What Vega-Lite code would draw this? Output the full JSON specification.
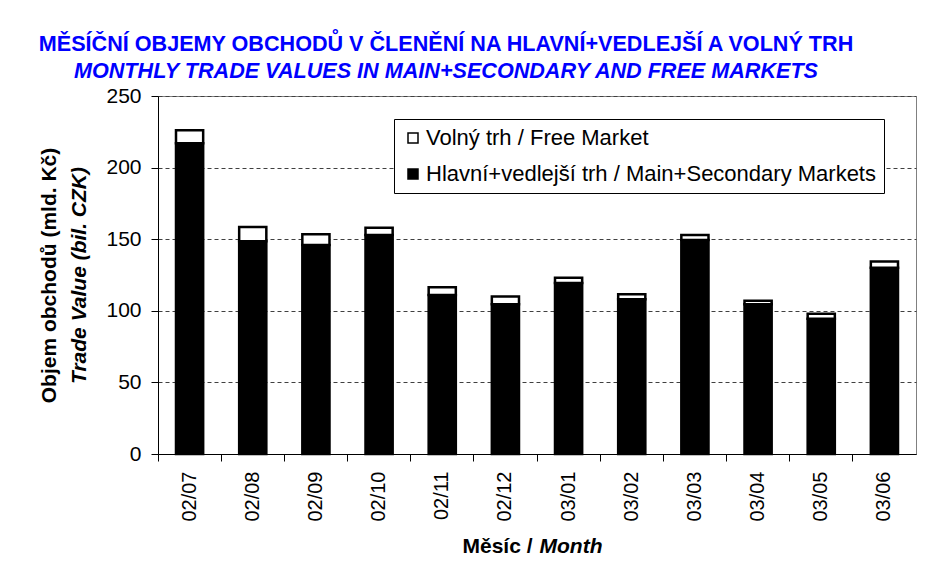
{
  "$schema": "https://vega.github.io/schema/vega-lite/v6.json",
  "autosize": "none",
  "width": 758,
  "height": 358,
  "padding": {"left": 158, "top": 96, "right": 14, "bottom": 115},
  "background": "white",
  "title": {
    "text": "MĚSÍČNÍ OBJEMY OBCHODŮ V ČLENĚNÍ NA HLAVNÍ+VEDLEJŠÍ A VOLNÝ TRH",
    "subtitle": "MONTHLY TRADE VALUES IN MAIN+SECONDARY AND FREE MARKETS",
    "anchor": "middle",
    "frame": "group",
    "dx": -91,
    "offset": 2,
    "font": "Liberation Sans",
    "fontSize": 21.6,
    "fontWeight": "bold",
    "color": "#0000ff",
    "subtitleFont": "Liberation Sans",
    "subtitleFontSize": 21.6,
    "subtitleFontWeight": "bold",
    "subtitleFontStyle": "italic",
    "subtitleColor": "#0000ff",
    "subtitlePadding": 6
  },
  "data": {
    "values": [
      {"month": "02/07", "series": "Hlavní+vedlejší trh / Main+Secondary Markets", "value": 217},
      {"month": "02/07", "series": "Volný trh / Free Market", "value": 9},
      {"month": "02/08", "series": "Hlavní+vedlejší trh / Main+Secondary Markets", "value": 148.5},
      {"month": "02/08", "series": "Volný trh / Free Market", "value": 10},
      {"month": "02/09", "series": "Hlavní+vedlejší trh / Main+Secondary Markets", "value": 146},
      {"month": "02/09", "series": "Volný trh / Free Market", "value": 7.5},
      {"month": "02/10", "series": "Hlavní+vedlejší trh / Main+Secondary Markets", "value": 153},
      {"month": "02/10", "series": "Volný trh / Free Market", "value": 5},
      {"month": "02/11", "series": "Hlavní+vedlejší trh / Main+Secondary Markets", "value": 111},
      {"month": "02/11", "series": "Volný trh / Free Market", "value": 5.5},
      {"month": "02/12", "series": "Hlavní+vedlejší trh / Main+Secondary Markets", "value": 104.5},
      {"month": "02/12", "series": "Volný trh / Free Market", "value": 5.5},
      {"month": "03/01", "series": "Hlavní+vedlejší trh / Main+Secondary Markets", "value": 119.5},
      {"month": "03/01", "series": "Volný trh / Free Market", "value": 3.5},
      {"month": "03/02", "series": "Hlavní+vedlejší trh / Main+Secondary Markets", "value": 108},
      {"month": "03/02", "series": "Volný trh / Free Market", "value": 3.5},
      {"month": "03/03", "series": "Hlavní+vedlejší trh / Main+Secondary Markets", "value": 149.5},
      {"month": "03/03", "series": "Volný trh / Free Market", "value": 3.5},
      {"month": "03/04", "series": "Hlavní+vedlejší trh / Main+Secondary Markets", "value": 104.5},
      {"month": "03/04", "series": "Volný trh / Free Market", "value": 2.5},
      {"month": "03/05", "series": "Hlavní+vedlejší trh / Main+Secondary Markets", "value": 94.5},
      {"month": "03/05", "series": "Volný trh / Free Market", "value": 3.5},
      {"month": "03/06", "series": "Hlavní+vedlejší trh / Main+Secondary Markets", "value": 130},
      {"month": "03/06", "series": "Volný trh / Free Market", "value": 4.5}
    ]
  },
  "encoding": {
    "y": {
      "field": "value",
      "type": "quantitative",
      "stack": "zero",
      "scale": {"domain": [0, 250]}
    },
    "order": {"field": "series", "sort": "ascending"}
  },
  "layer": [
    {
      "mark": {"type": "bar", "width": {"band": 0.43}, "stroke": "black", "strokeWidth": 2.5},
      "encoding": {
        "x": {
          "field": "month",
          "type": "ordinal",
          "scale": {"paddingInner": 0, "paddingOuter": 0},
          "axis": {
            "orient": "bottom",
            "title": "Měsíc /",
            "titleFont": "Liberation Sans",
            "titleFontSize": 21,
            "titleFontWeight": "bold",
            "titleColor": "black",
            "titleAlign": "left",
            "titleBaseline": "top",
            "titleX": 304,
            "titleY": 81,
            "labelAngle": 270,
            "labelFont": "Liberation Sans",
            "labelFontSize": 20,
            "labelColor": "black",
            "labelPadding": 10,
            "tickSize": 7,
            "tickColor": "black",
            "domainColor": "black",
            "bandPosition": 0
          }
        },
        "y": {
          "field": "value",
          "type": "quantitative",
          "stack": "zero",
          "scale": {"domain": [0, 250]},
          "axis": {
            "title": "Objem obchodů (mld. Kč)",
            "titleFont": "Liberation Sans",
            "titleFontSize": 21,
            "titleFontWeight": "bold",
            "titleColor": "black",
            "titlePadding": 46,
            "values": [0, 50, 100, 150, 200, 250],
            "labelFont": "Liberation Sans",
            "labelFontSize": 21,
            "labelColor": "black",
            "labelPadding": 10,
            "tickSize": 7,
            "tickColor": "black",
            "domainColor": "black",
            "grid": true,
            "gridColor": "#404040",
            "gridDash": [4, 3],
            "gridWidth": 1
          }
        },
        "color": {
          "field": "series",
          "type": "nominal",
          "scale": {
            "domain": ["Volný trh / Free Market", "Hlavní+vedlejší trh / Main+Secondary Markets"],
            "range": ["white", "black"]
          },
          "legend": {
            "title": null,
            "orient": "none",
            "legendX": 236,
            "legendY": 23,
            "symbolType": "square",
            "symbolSize": 100,
            "symbolStrokeColor": "black",
            "symbolStrokeWidth": 1.5,
            "labelFont": "Liberation Sans",
            "labelFontSize": 22,
            "labelColor": "black",
            "labelOffset": 2,
            "labelLimit": 600,
            "rowPadding": 14,
            "padding": 8,
            "strokeColor": "black",
            "fillColor": "white"
          }
        }
      }
    },
    {
      "mark": {"type": "bar", "width": {"band": 0.43}, "opacity": 0},
      "encoding": {
        "x": {
          "field": "month",
          "type": "ordinal",
          "axis": {
            "orient": "bottom",
            "title": "Month",
            "titleFont": "Liberation Sans",
            "titleFontSize": 21,
            "titleFontWeight": "bold",
            "titleFontStyle": "italic",
            "titleColor": "black",
            "titleAlign": "left",
            "titleBaseline": "top",
            "titleX": 381,
            "titleY": 81,
            "labels": false,
            "ticks": false,
            "domain": false,
            "grid": false
          }
        },
        "y": {
          "field": "value",
          "type": "quantitative",
          "stack": "zero",
          "scale": {"domain": [0, 250]},
          "axis": {
            "title": "Trade Value (bil. CZK)",
            "titleFont": "Liberation Sans",
            "titleFontSize": 21,
            "titleFontWeight": "bold",
            "titleFontStyle": "italic",
            "titleColor": "black",
            "titlePadding": 69,
            "orient": "left",
            "labels": false,
            "ticks": false,
            "domain": false,
            "grid": false
          }
        }
      }
    }
  ],
  "resolve": {"axis": {"y": "independent", "x": "independent"}},
  "config": {
    "view": {"stroke": "#808080", "strokeWidth": 1},
    "font": "Liberation Sans"
  }
}
